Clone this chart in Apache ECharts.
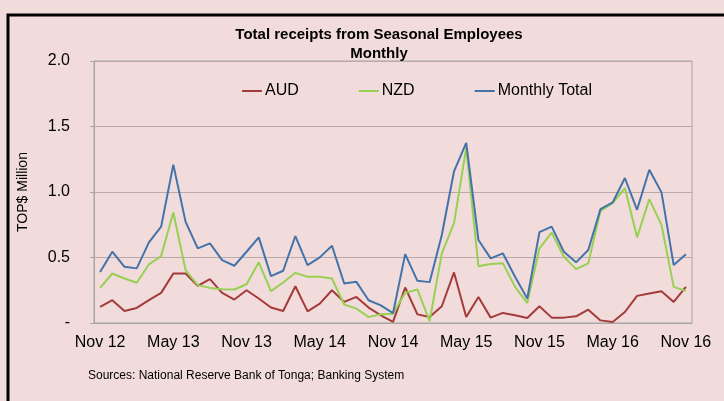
<!DOCTYPE html>
<html>
<head>
<meta charset="utf-8">
<script src="https://cdn.jsdelivr.net/npm/echarts@6/dist/echarts.min.js"></script>
<style>
  html, body { margin: 0; padding: 0; background: #F2DCDB; }
  #main { width: 724px; height: 401px; }
</style>
</head>
<body>
<div id="main"></div>
<script>
// months, Nov 12 .. Nov 16
var months = [
    'Nov 12', 'Dec 12', 'Jan 13', 'Feb 13', 'Mar 13', 'Apr 13', 'May 13', 'Jun 13', 'Jul 13', 'Aug 13', 'Sep 13', 'Oct 13',
    'Nov 13', 'Dec 13', 'Jan 14', 'Feb 14', 'Mar 14', 'Apr 14', 'May 14', 'Jun 14', 'Jul 14', 'Aug 14', 'Sep 14', 'Oct 14',
    'Nov 14', 'Dec 14', 'Jan 15', 'Feb 15', 'Mar 15', 'Apr 15', 'May 15', 'Jun 15', 'Jul 15', 'Aug 15', 'Sep 15', 'Oct 15',
    'Nov 15', 'Dec 15', 'Jan 16', 'Feb 16', 'Mar 16', 'Apr 16', 'May 16', 'Jun 16', 'Jul 16', 'Aug 16', 'Sep 16', 'Oct 16',
    'Nov 16'
];

// TOP$ million
var aud = [
    0.123, 0.174, 0.092, 0.115, 0.174, 0.230, 0.378, 0.378, 0.284, 0.335, 0.230, 0.179,
    0.250, 0.187, 0.118, 0.092, 0.281, 0.089, 0.148, 0.250, 0.161, 0.199, 0.118, 0.059,
    0.008, 0.271, 0.066, 0.046, 0.128, 0.386, 0.046, 0.199, 0.041, 0.077, 0.059, 0.038,
    0.128, 0.041, 0.041, 0.051, 0.102, 0.020, 0.008, 0.084, 0.207, 0.225, 0.243, 0.161,
    0.276
];
var nzd = [
    0.268, 0.378, 0.340, 0.307, 0.447, 0.511, 0.843, 0.404, 0.289, 0.268, 0.258, 0.256,
    0.296, 0.463, 0.243, 0.309, 0.383, 0.353, 0.353, 0.340, 0.141, 0.110, 0.046, 0.066,
    0.070, 0.230, 0.256, 0.015, 0.532, 0.762, 1.337, 0.434, 0.450, 0.457, 0.276, 0.153,
    0.570, 0.690, 0.506, 0.411, 0.455, 0.856, 0.915, 1.030, 0.654, 0.946, 0.749, 0.276,
    0.245
];
var monthlyTotal = [
    0.390, 0.544, 0.429, 0.417, 0.616, 0.736, 1.209, 0.774, 0.570, 0.608, 0.480, 0.437,
    0.544, 0.654, 0.358, 0.399, 0.664, 0.442, 0.501, 0.590, 0.302, 0.314, 0.174, 0.135,
    0.075, 0.526, 0.322, 0.312, 0.672, 1.158, 1.375, 0.634, 0.493, 0.532, 0.353, 0.187,
    0.693, 0.736, 0.544, 0.463, 0.557, 0.869, 0.920, 1.107, 0.864, 1.170, 0.997, 0.442,
    0.524
];

var FONT = "'Liberation Sans', Arial, sans-serif";

var myChart = echarts.init(document.getElementById('main'));

var option = {
    backgroundColor: '#F2DCDB',
    animation: false,
    textStyle: { fontFamily: FONT },
    title: {
        text: 'Total receipts from Seasonal Employees\nMonthly',
        left: 374,
        top: 20,
        textAlign: 'center',
        textStyle: { fontSize: 15, fontWeight: 'bold', color: '#000', lineHeight: 19, fontFamily: FONT }
    },
    legend: {
        left: 237,
        top: 78,
        icon: 'rect',
        itemWidth: 20,
        itemHeight: 2,
        itemGap: 60,
        textStyle: { fontSize: 16, color: '#000', fontFamily: FONT, padding: [0, 0, 0, -2] },
        data: ['AUD', 'NZD', 'Monthly Total']
    },
    grid: {
        left: 94,
        right: 32,
        top: 61,
        bottom: 78,
        show: true,
        borderColor: '#A6A6A6',
        borderWidth: 1,
        backgroundColor: 'transparent'
    },
    xAxis: {
        type: 'category',
        data: months,
        boundaryGap: true,
        axisLine: { lineStyle: { color: '#A6A6A6' } },
        axisTick: { interval: 5, length: 5, lineStyle: { color: '#A6A6A6' } },
        axisLabel: { interval: 5, fontSize: 16, color: '#000', margin: 12, fontFamily: FONT }
    },
    yAxis: {
        type: 'value',
        min: 0,
        max: 2,
        interval: 0.5,
        name: 'TOP$ Million',
        nameLocation: 'middle',
        nameRotate: 90,
        nameGap: 64,
        nameTextStyle: { fontSize: 14, color: '#000', fontFamily: FONT },
        axisLine: { show: true, lineStyle: { color: '#A6A6A6' } },
        axisTick: { show: true, length: 4, lineStyle: { color: '#A6A6A6' } },
        splitLine: { lineStyle: { color: '#BBAAAA' } },
        axisLabel: {
            fontSize: 16,
            color: '#000',
            margin: 24,
            fontFamily: FONT,
            formatter: function (v) { return v === 0 ? '-' : v.toFixed(1); }
        }
    },
    graphic: [
        {
            type: 'rect',
            silent: true,
            shape: { x: 8, y: 15, width: 800, height: 500 },
            style: { fill: 'none', stroke: '#000', lineWidth: 3 }
        },
        {
            type: 'text',
            left: 88,
            top: 370,
            style: { text: 'Sources: National Reserve Bank of Tonga; Banking System', fontSize: 12, fill: '#000', fontFamily: FONT }
        }
    ],
    series: [
        { name: 'AUD', type: 'line', data: aud, symbol: 'none', lineStyle: { width: 2, color: '#A23B3A' }, itemStyle: { color: '#A23B3A' } },
        { name: 'NZD', type: 'line', data: nzd, symbol: 'none', lineStyle: { width: 2, color: '#97D052' }, itemStyle: { color: '#97D052' } },
        { name: 'Monthly Total', type: 'line', data: monthlyTotal, symbol: 'none', lineStyle: { width: 2, color: '#4373A9' }, itemStyle: { color: '#4373A9' } }
    ]
};

myChart.setOption(option);
</script>
</body>
</html>
